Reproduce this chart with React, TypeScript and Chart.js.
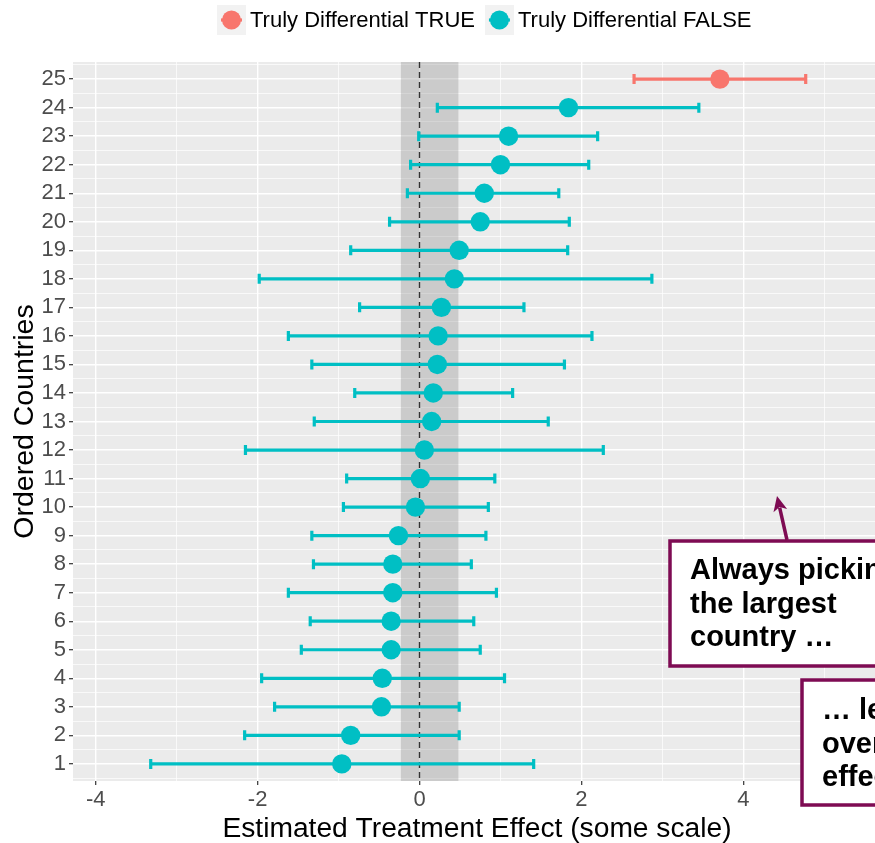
import React, { useEffect, useRef } from "react";
import { Chart, registerables } from "chart.js";

Chart.register(...registerables);

// ---------- data ----------
const countries = [1, 2, 3, 4, 5, 6, 7, 8, 9, 10, 11, 12, 13, 14, 15, 16, 17, 18, 19, 20, 21, 22, 23, 24, 25];
const estimates = [-0.96, -0.85, -0.47, -0.46, -0.35, -0.35, -0.33, -0.33, -0.26, -0.05, 0.01, 0.06, 0.15, 0.17, 0.22, 0.23, 0.27, 0.43, 0.49, 0.75, 0.8, 1.0, 1.1, 1.84, 3.71];
const lowerBounds = [-3.32, -2.16, -1.79, -1.95, -1.46, -1.35, -1.62, -1.31, -1.33, -0.94, -0.9, -2.15, -1.3, -0.8, -1.33, -1.62, -0.74, -1.98, -0.85, -0.37, -0.15, -0.11, -0.01, 0.22, 2.65];
const upperBounds = [1.41, 0.49, 0.49, 1.05, 0.75, 0.67, 0.95, 0.64, 0.82, 0.85, 0.93, 2.27, 1.59, 1.15, 1.79, 2.13, 1.29, 2.87, 1.83, 1.85, 1.72, 2.09, 2.2, 3.45, 4.77];
const trulyDifferential = [false, false, false, false, false, false, false, false, false, false, false, false, false, false, false, false, false, false, false, false, false, false, false, false, true];
const seriesLabels = ["Truly Differential TRUE", "Truly Differential FALSE"];
const seriesColors = ["#F8766D", "#00BFC4"];
const bandRange = [-0.23, 0.48];
const xTickValues = [-4, -3, -2, -1, 0, 1, 2, 3, 4, 5];
const xTitle = "Estimated Treatment Effect (some scale)";
const yTitle = "Ordered Countries";
const note1 = ["Always picking", "the largest", "country \u2026"];
const note2 = ["\u2026 leads to", "overestimated", "effects"];

const FONT = '"Liberation Sans", Arial, sans-serif';
const NOTE_COLOR = "#7E0B53";

const pts = (flag: boolean) =>
  countries
    .map((c, i) => ({ x: estimates[i], y: c, lo: lowerBounds[i], hi: upperBounds[i], f: trulyDifferential[i] }))
    .filter((p) => p.f === flag);

const bgPlugin = {
  id: "panelBg",
  beforeDraw(chart: any) {
    const { ctx, chartArea: a } = chart;
    ctx.save();
    ctx.fillStyle = "#EBEBEB";
    ctx.fillRect(a.left, a.top, a.right - a.left, a.bottom - a.top);
    ctx.restore();
  },
  beforeDatasetsDraw(chart: any) {
    const { ctx, chartArea: a, scales } = chart;
    const xs = scales.x;
    ctx.save();
    // shaded band
    const b0 = xs.getPixelForValue(bandRange[0]);
    const b1 = xs.getPixelForValue(bandRange[1]);
    ctx.fillStyle = "rgba(140,140,140,0.33)";
    ctx.fillRect(b0, a.top, b1 - b0, a.bottom - a.top);
    // dashed zero line
    const z = xs.getPixelForValue(0);
    ctx.strokeStyle = "#333333";
    ctx.lineWidth = 1.4;
    ctx.setLineDash([6, 4]);
    ctx.beginPath();
    ctx.moveTo(z, a.top);
    ctx.lineTo(z, a.bottom);
    ctx.stroke();
    ctx.setLineDash([]);
    // error bars
    chart.data.datasets.forEach((ds: any) => {
      ctx.strokeStyle = ds.backgroundColor;
      ctx.lineWidth = 3.2;
      ds.data.forEach((p: any) => {
        const y = scales.y.getPixelForValue(p.y);
        const x0 = xs.getPixelForValue(p.lo);
        const x1 = xs.getPixelForValue(p.hi);
        ctx.beginPath();
        ctx.moveTo(x0, y);
        ctx.lineTo(x1, y);
        ctx.moveTo(x0, y - 5);
        ctx.lineTo(x0, y + 5);
        ctx.moveTo(x1, y - 5);
        ctx.lineTo(x1, y + 5);
        ctx.stroke();
      });
    });
    ctx.restore();
  },
  afterDraw(chart: any) {
    const { ctx } = chart;
    ctx.save();
    // legend
    ctx.font = "22px " + FONT;
    ctx.textBaseline = "middle";
    ctx.textAlign = "left";
    let x = 217;
    const cy = 20;
    seriesLabels.forEach((lab, i) => {
      ctx.fillStyle = "#F2F2F2";
      ctx.fillRect(x, cy - 15, 29, 30);
      ctx.strokeStyle = seriesColors[i];
      ctx.lineWidth = 3.2;
      ctx.beginPath();
      ctx.moveTo(x + 4, cy);
      ctx.lineTo(x + 25, cy);
      ctx.stroke();
      ctx.fillStyle = seriesColors[i];
      ctx.beginPath();
      ctx.arc(x + 14.5, cy, 9.5, 0, Math.PI * 2);
      ctx.fill();
      ctx.fillStyle = "#000000";
      ctx.fillText(lab, x + 33, cy + 1);
      x = x + 33 + ctx.measureText(lab).width + 10;
    });
    // annotation boxes
    const drawBox = (bx: number, by: number, bw: number, bh: number, lines: string[], tx: number, ty: number) => {
      ctx.fillStyle = "#FFFFFF";
      ctx.fillRect(bx, by, bw, bh);
      ctx.strokeStyle = NOTE_COLOR;
      ctx.lineWidth = 3.5;
      ctx.strokeRect(bx, by, bw, bh);
      ctx.fillStyle = "#000000";
      ctx.font = "bold 29px " + FONT;
      ctx.textBaseline = "alphabetic";
      lines.forEach((l, k) => ctx.fillText(l, tx, ty + k * 33.5));
    };
    drawBox(670, 541, 400, 125, note1, 690, 579);
    drawBox(802, 680, 300, 125, note2, 822, 719);
    // arrow
    const sx = 787, sy = 540, ex = 777, ey = 496;
    const ang = Math.atan2(ey - sy, ex - sx);
    const hl = 15, hw = 7;
    ctx.strokeStyle = NOTE_COLOR;
    ctx.fillStyle = NOTE_COLOR;
    ctx.lineWidth = 3.5;
    ctx.beginPath();
    ctx.moveTo(sx, sy);
    ctx.lineTo(ex - Math.cos(ang) * hl * 0.8, ey - Math.sin(ang) * hl * 0.8);
    ctx.stroke();
    ctx.beginPath();
    ctx.moveTo(ex, ey);
    ctx.lineTo(ex - Math.cos(ang) * hl + Math.sin(ang) * hw, ey - Math.sin(ang) * hl - Math.cos(ang) * hw);
    ctx.lineTo(ex - Math.cos(ang) * hl * 0.75, ey - Math.sin(ang) * hl * 0.75);
    ctx.lineTo(ex - Math.cos(ang) * hl - Math.sin(ang) * hw, ey - Math.sin(ang) * hl + Math.cos(ang) * hw);
    ctx.closePath();
    ctx.fill();
    ctx.restore();
  },
};

export default function App() {
  const ref = useRef<HTMLCanvasElement | null>(null);
  useEffect(() => {
    if (!ref.current) return;
    const yTicks: number[] = [];
    for (let v = 0.5; v <= 25.5; v += 0.5) yTicks.push(v);
    const chart = new Chart(ref.current, {
      type: "scatter",
      data: {
        datasets: [
          { label: seriesLabels[0], data: pts(true) as any, backgroundColor: seriesColors[0], borderColor: seriesColors[0], pointRadius: 9.7, pointBorderWidth: 0 },
          { label: seriesLabels[1], data: pts(false) as any, backgroundColor: seriesColors[1], borderColor: seriesColors[1], pointRadius: 9.7, pointBorderWidth: 0 },
        ],
      },
      options: {
        animation: false,
        responsive: false,
        devicePixelRatio: 1,
        layout: { padding: { top: 62, left: 0, right: 79, bottom: 0 } },
        plugins: { legend: { display: false }, tooltip: { enabled: false } },
        scales: {
          x: {
            type: "linear",
            min: -4.28,
            max: 5.7,
            afterBuildTicks: (s: any) => {
              s.ticks = xTickValues.map((v) => ({ value: v }));
            },
            afterFit: (s: any) => {
              s.height = 62;
            },
            border: { display: false },
            grid: {
              color: "#FFFFFF",
              lineWidth: (c: any) => (c.tick && c.tick.value % 2 === 0 ? 1.4 : 0.7),
              tickColor: (c: any) => (c.tick && c.tick.value % 2 === 0 ? "#333333" : "rgba(0,0,0,0)"),
              tickWidth: 1.2,
              tickLength: 4,
              drawTicks: true,
            },
            ticks: {
              autoSkip: false,
              maxRotation: 0,
              padding: 2,
              color: "#4D4D4D",
              font: { family: FONT, size: 22 },
              callback: (v: any) => (Number(v) % 2 === 0 ? String(v) : ""),
            },
            title: {
              display: true,
              text: xTitle,
              color: "#000000",
              font: { family: FONT, size: 28.2, lineHeight: 1 },
              padding: { top: 0, bottom: 0 },
            },
          },
          y: {
            type: "linear",
            min: 0.4,
            max: 25.6,
            afterBuildTicks: (s: any) => {
              s.ticks = yTicks.map((v) => ({ value: v }));
            },
            afterFit: (s: any) => {
              s.width = 73;
            },
            border: { display: false },
            grid: {
              color: "#FFFFFF",
              lineWidth: (c: any) => (c.tick && Number.isInteger(c.tick.value) ? 1.4 : 0.7),
              tickColor: (c: any) => (c.tick && Number.isInteger(c.tick.value) ? "#333333" : "rgba(0,0,0,0)"),
              tickWidth: 1.2,
              tickLength: 4,
              drawTicks: true,
            },
            ticks: {
              autoSkip: false,
              padding: 3,
              color: "#4D4D4D",
              font: { family: FONT, size: 22 },
              callback: (v: any) => (Number.isInteger(Number(v)) ? String(v) : ""),
            },
            title: {
              display: true,
              text: yTitle,
              color: "#000000",
              font: { family: FONT, size: 28.5, lineHeight: 1 },
              padding: { top: 11, bottom: 0 },
            },
          },
        },
      },
      plugins: [bgPlugin],
    });
    return () => chart.destroy();
  }, []);
  return (
    <div style={{ position: "absolute", left: 0, top: 0, width: 875, height: 843, overflow: "hidden", background: "#FFFFFF" }}>
      <canvas ref={ref} width={960} height={843} style={{ display: "block" }} />
    </div>
  );
}
